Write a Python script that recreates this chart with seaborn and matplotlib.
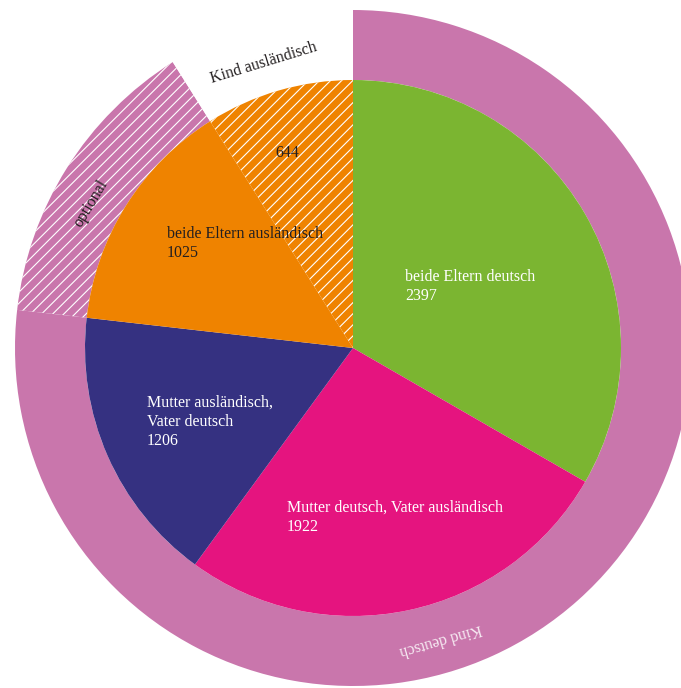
import matplotlib
matplotlib.use("Agg")
import matplotlib.pyplot as plt
import seaborn as sns
import numpy as np

# ---- data ----
inner_labels = ["beide Eltern deutsch", "Mutter deutsch, Vater ausländisch",
                "Mutter ausländisch,\nVater deutsch", "beide Eltern ausländisch", ""]
inner_values = [2397, 1922, 1206, 1025, 644]
outer_labels = ["Kind deutsch", "optional", "Kind ausländisch"]
outer_values = [2397 + 1922 + 1206, 1025, 644]

# ---- styles ----
inner_colors = ["#7BB531", "#E5147F", "#353181", "#EF8300", "#EF8300"]
inner_hatch = [None, None, None, None, "///"]
inner_text_colors = ["white", "white", "white", "#231f20", "#231f20"]
outer_colors = ["#C976AC", "#C976AC", "white"]
outer_hatch = [None, "///", None]
outer_text_colors = ["#f6eaf2", "#231f20", "#231f20"]

sns.set_theme(style="white")
plt.rcParams["font.family"] = ["Liberation Serif", "DejaVu Serif"]
plt.rcParams["hatch.linewidth"] = 0.8
plt.rcParams["hatch.color"] = "white"

W, H = 681, 688
CX, CY = 353, 348
R_IN, R_OUT = 268, 338

fig = plt.figure(figsize=(W / 100, H / 100), dpi=100)
ax = fig.add_axes([0, 0, 1, 1])
ax.set_xlim(-CX, W - CX)
ax.set_ylim(CY - H, CY)
ax.set_aspect("equal")
ax.axis("off")

ow, _ = ax.pie(outer_values, radius=R_OUT, startangle=90, counterclock=False,
               colors=outer_colors, wedgeprops=dict(width=R_OUT - R_IN, linewidth=0))
for w, h in zip(ow, outer_hatch):
    if h:
        w.set_hatch(h)
        w.set_edgecolor("white")
        w.set_linewidth(0)

iw, _ = ax.pie(inner_values, radius=R_IN, startangle=90, counterclock=False,
               colors=inner_colors, wedgeprops=dict(linewidth=0))
for w, h in zip(iw, inner_hatch):
    if h:
        w.set_hatch(h)
        w.set_edgecolor("white")
        w.set_linewidth(0)
ax.set_xlim(-CX, W - CX)
ax.set_ylim(CY - H, CY)

# inner labels (left x, last-line baseline y in pixel coords)
inner_pos = [(405, 300), (287, 531), (147, 445), (167, 257), (275, 157)]
for lab, val, (px, py), c in zip(inner_labels, inner_values, inner_pos, inner_text_colors):
    txt = f"{lab}\n{val}" if lab else f"{val}"
    ax.text(px - CX, CY - py, txt, color=c, fontsize=11.5, ha="left",
            va="baseline", linespacing=1.27)

# outer labels (center, rotation)
outer_pos = [(440, 640, 196), (91, 203, 59), (264, 63, 17)]
for lab, (px, py, rot), c in zip(outer_labels, outer_pos, outer_text_colors):
    ax.text(px - CX, CY - py, lab, color=c, fontsize=11.5, ha="center",
            va="center", rotation=rot, rotation_mode="anchor")

fig.savefig("out.png", dpi=100)
